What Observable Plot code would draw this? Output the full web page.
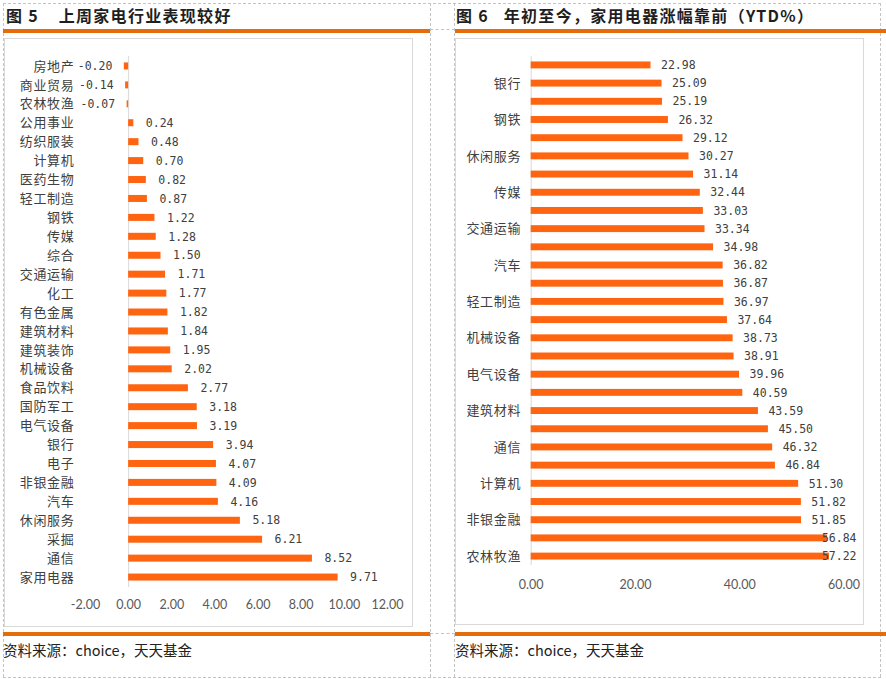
<!DOCTYPE html>
<html>
<head>
<meta charset="utf-8">
<script src="https://cdn.jsdelivr.net/npm/d3@7"></script>
<script src="https://cdn.jsdelivr.net/npm/@observablehq/plot@0.6"></script>
<style>
  html, body { margin: 0; padding: 0; background: #fff; }
  #page { position: relative; width: 886px; height: 679px; overflow: hidden; background: #fff; }
  .abs { position: absolute; }
  .dh { position: absolute; height: 0; border-top: 1px dashed #c4c4c4; }
  .dv { position: absolute; width: 0; border-left: 1px dashed #c4c4c4; }
  .rule { position: absolute; height: 4px; background: #e46c0a; }
  .box { position: absolute; border: 1px solid #d9d9d9; box-sizing: border-box; }
  .title { position: absolute; font-family: "Noto Sans CJK SC", sans-serif; font-weight: 700; font-size: 16px; color: #1f1f1f; white-space: pre; letter-spacing: 1.3px; line-height: 20px; }
  .src { position: absolute; font-family: "Noto Sans CJK SC", sans-serif; font-size: 14.5px; color: #222; white-space: pre; line-height: 20px; }
  .cjkaxis [aria-label="y-axis tick label"] text { letter-spacing: 0.7px; }
</style>
</head>
<body>
<div id="page">
  <!-- dashed table borders -->
  <div class="dh" style="left:3px; top:3px; width:878px;"></div>
  <div class="dh" style="left:3px; top:677px; width:878px;"></div>
  <div class="dv" style="left:3px; top:3px; height:674px;"></div>
  <div class="dv" style="left:430px; top:3px; height:674px;"></div>
  <div class="dv" style="left:454px; top:3px; height:674px;"></div>
  <div class="dv" style="left:880px; top:3px; height:674px;"></div>
  <div class="dh" style="left:430px; top:29px; width:25px;"></div>
  <div class="dh" style="left:430px; top:633px; width:25px;"></div>

  <div class="title" style="left:6px; top:5px;">图 5    上周家电行业表现较好</div>
  <div class="title" style="left:456px; top:5px;">图 6   年初至今，家用电器涨幅靠前（YTD%）</div>

  <div class="rule" style="left:3px; top:29px; width:427px;"></div>
  <div class="rule" style="left:455px; top:29px; width:431px;"></div>
  <div class="rule" style="left:3px; top:632px; width:427px;"></div>
  <div class="rule" style="left:455px; top:632px; width:431px;"></div>

  <div class="box" style="left:4px; top:38px; width:409px; height:589px;"></div>
  <div class="box" style="left:455px; top:38px; width:409px; height:587px;"></div>

  <div id="c1" class="abs" style="left:5px; top:39px;"></div>
  <div id="c2" class="abs" style="left:456px; top:39px;"></div>

  <div class="src" style="left:3px; top:640px;">资料来源：choice，天天基金</div>
  <div class="src" style="left:455px; top:640px;">资料来源：choice，天天基金</div>
</div>
<script>
// ---- Chart 1: last week's sector performance (%) ----
const cats1 = ["房地产","商业贸易","农林牧渔","公用事业","纺织服装","计算机","医药生物","轻工制造","钢铁","传媒","综合","交通运输","化工","有色金属","建筑材料","建筑装饰","机械设备","食品饮料","国防军工","电气设备","银行","电子","非银金融","汽车","休闲服务","采掘","通信","家用电器"];
const vals1 = [-0.20,-0.14,-0.07,0.24,0.48,0.70,0.82,0.87,1.22,1.28,1.50,1.71,1.77,1.82,1.84,1.95,2.02,2.77,3.18,3.19,3.94,4.07,4.09,4.16,5.18,6.21,8.52,9.71];
const xTicks1 = [-2,0,2,4,6,8,10,12];

// ---- Chart 2: YTD sector performance (%) ----
const cats2 = ["建筑装饰","银行","公用事业","钢铁","采掘","休闲服务","房地产","传媒","商业贸易","交通运输","综合","汽车","纺织服装","轻工制造","医药生物","机械设备","有色金属","电气设备","化工","建筑材料","国防军工","通信","电子","计算机","食品饮料","非银金融","家用电器","农林牧渔"];
const vals2 = [22.98,25.09,25.19,26.32,29.12,30.27,31.14,32.44,33.03,33.34,34.98,36.82,36.87,36.97,37.64,38.73,38.91,39.96,40.59,43.59,45.50,46.32,46.84,51.30,51.82,51.85,56.84,57.22];
const shownLabels2 = ["银行","钢铁","休闲服务","传媒","交通运输","汽车","轻工制造","机械设备","电气设备","建筑材料","通信","计算机","非银金融","农林牧渔"];
const xTicks2 = [0,20,40,60];
const clampAt2 = 54; // labels beyond this are pulled inside the plot edge

const barColor = "#ff6410";
const catFont = "'Noto Sans CJK SC', sans-serif";
const valFont = "'DejaVu Sans Mono', monospace";
const tickFont = "Lato, 'Open Sans', sans-serif";
const fmt = d => d.toFixed(2);

const data1 = cats1.map((c, i) => ({c, v: vals1[i]}));
const data2 = cats2.map((c, i) => ({c, v: vals2[i]}));

const chart1 = Plot.plot({
  className: "cjkaxis",
  width: 407, height: 587,
  marginLeft: 80, marginRight: 25, marginTop: 17, marginBottom: 39,
  style: {background: "transparent", overflow: "visible"},
  x: {domain: [d3.min(xTicks1), d3.max(xTicks1)]},
  y: {domain: cats1, paddingInner: 0.63, paddingOuter: 0.34, round: false},
  marks: [
    Plot.ruleX([0], {stroke: "#d9d9d9", strokeWidth: 1}),
    Plot.barX(data1, {x: "v", y: "c", fill: barColor}),
    Plot.text(data1.filter(d => d.v >= 0), {x: "v", y: "c", text: d => fmt(d.v), dx: 12, textAnchor: "start", fontFamily: valFont, fontSize: 11.5, fill: "#404040"}),
    Plot.text(data1.filter(d => d.v < 0), {x: "v", y: "c", text: d => fmt(d.v), dx: -12, textAnchor: "end", fontFamily: valFont, fontSize: 11.5, fill: "#404040"}),
    Plot.axisX({ticks: xTicks1, tickFormat: fmt, tickSize: 0, tickPadding: 13, label: null, fontFamily: tickFont, fontSize: 12.5, color: "#595959"}),
    Plot.axisY({tickSize: 0, tickPadding: 11, label: null, fontFamily: catFont, fontSize: 13, color: "#404040"})
  ]
});
document.getElementById("c1").appendChild(chart1);

const xMax2 = d3.max(xTicks2);
const chart2 = Plot.plot({
  className: "cjkaxis",
  width: 407, height: 585,
  marginLeft: 74.7, marginRight: 19.5, marginTop: 17, marginBottom: 59,
  style: {background: "transparent", overflow: "visible"},
  x: {domain: [d3.min(xTicks2), xMax2]},
  y: {domain: cats2, paddingInner: 0.62, paddingOuter: 0.3, round: false},
  marks: [
    Plot.ruleX([0], {stroke: "#d9d9d9", strokeWidth: 1}),
    Plot.barX(data2, {x: "v", y: "c", fill: barColor}),
    Plot.text(data2.filter(d => d.v <= clampAt2), {x: "v", y: "c", text: d => fmt(d.v), dx: 10, textAnchor: "start", fontFamily: valFont, fontSize: 11.5, fill: "#404040"}),
    Plot.text(data2.filter(d => d.v > clampAt2), {x: () => xMax2, y: "c", text: d => fmt(d.v), dx: 12.5, textAnchor: "end", fontFamily: valFont, fontSize: 11.5, fill: "#404040"}),
    Plot.axisX({ticks: xTicks2, tickFormat: fmt, tickSize: 0, tickPadding: 15, label: null, fontFamily: tickFont, fontSize: 12.5, color: "#595959"}),
    Plot.axisY({ticks: shownLabels2, tickSize: 0, tickPadding: 10, label: null, fontFamily: catFont, fontSize: 13, color: "#404040"})
  ]
});
document.getElementById("c2").appendChild(chart2);
</script>
</body>
</html>
